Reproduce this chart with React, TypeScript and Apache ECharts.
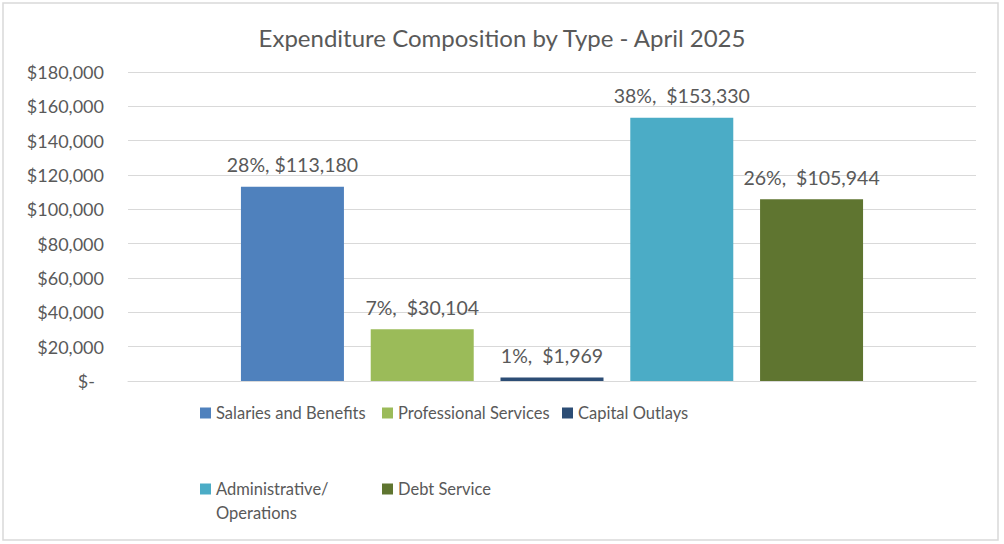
import React, { useEffect, useRef } from "react";
import * as echarts from "echarts";

const seriesNames = [
  "Salaries and Benefits",
  "Professional Services",
  "Capital Outlays",
  "Administrative/ Operations",
  "Debt Service",
];
const seriesValues = [113180, 30104, 1969, 153330, 105944];
const seriesPercents = [28, 7, 1, 38, 26];
const seriesColors = ["#4F81BD", "#9BBB59", "#2C4D75", "#4BACC6", "#5F7530"];
const labelSeparators = [", ", ",  ", ",  ", ",  ", ",  "];
const categories = [""];
const yTicks = { min: 0, max: 180000, interval: 20000 };

const FONT = "Lato";
const TXT = "#595959";

function fmtMoney(v: number) {
  return "$" + v.toLocaleString("en-US");
}

export default function App() {
  const ref = useRef<HTMLDivElement>(null);
  useEffect(() => {
    document.body.style.margin = "0";
    const chart = echarts.init(ref.current!, null, { renderer: "svg" });
    const legendPos = [
      { left: 195, top: 396 },
      { left: 377, top: 396 },
      { left: 557, top: 396 },
      { left: 195, top: 448 },
      { left: 377, top: 472 },
    ];
    chart.setOption({
      animation: false,
      backgroundColor: "#fff",
      title: {
        text: "Expenditure Composition by Type - April 2025",
        left: "center",
        top: 20,
        textStyle: { fontFamily: FONT, fontSize: 24, fontWeight: "normal", color: TXT },
      },
      graphic: [
        {
          type: "rect",
          shape: { x: 3, y: 3, width: 995, height: 537 },
          style: { fill: "none", stroke: "#d9d9d9", lineWidth: 1.5 },
          silent: true,
        },
      ],
      legend: seriesNames.map((n, i) => ({
        data: [n],
        left: legendPos[i].left,
        top: legendPos[i].top,
        itemWidth: 11,
        itemHeight: 11,
        itemGap: 0,
        icon: "rect",
        selectedMode: false,
        formatter: (name: string) =>
          name === "Administrative/ Operations" ? " \nAdministrative/\nOperations" : name,
        textStyle: {
          fontFamily: FONT,
          fontSize: 16.5,
          color: TXT,
          lineHeight: 24,
        },
      })),
      grid: { left: 128, right: 28, top: 72, bottom: 163, containLabel: false },
      xAxis: {
        type: "category",
        data: categories,
        axisLine: { show: true, lineStyle: { color: "#d9d9d9", width: 1 } },
        axisTick: { show: false },
        axisLabel: { show: false },
      },
      yAxis: {
        type: "value",
        min: yTicks.min,
        max: yTicks.max,
        interval: yTicks.interval,
        axisLine: { show: false },
        axisTick: { show: false },
        splitLine: { lineStyle: { color: "#d9d9d9", width: 1 } },
        axisLabel: {
          fontFamily: FONT,
          fontSize: 18,
          color: TXT,
          margin: 24,
          formatter: (v: number) => (v === 0 ? "{z|$-}" : fmtMoney(v)),
          rich: { z: { fontFamily: FONT, fontSize: 18, color: TXT, padding: [0, 9, 0, 0] } },
        },
      },
      series: seriesNames.map((n, i) => ({
        name: n,
        type: "bar",
        data: [seriesValues[i]],
        barWidth: 103,
        barGap: "26%",
        itemStyle: { color: seriesColors[i] },
        label: {
          show: true,
          position: "top",
          distance: 12,
          fontFamily: FONT,
          fontSize: 19.5,
          color: TXT,
          formatter: () => `${seriesPercents[i]}%${labelSeparators[i]}${fmtMoney(seriesValues[i])}`,
        },
      })),
    });
    return () => chart.dispose();
  }, []);
  return <div ref={ref} style={{ width: 1004, height: 544 }} />;
}
